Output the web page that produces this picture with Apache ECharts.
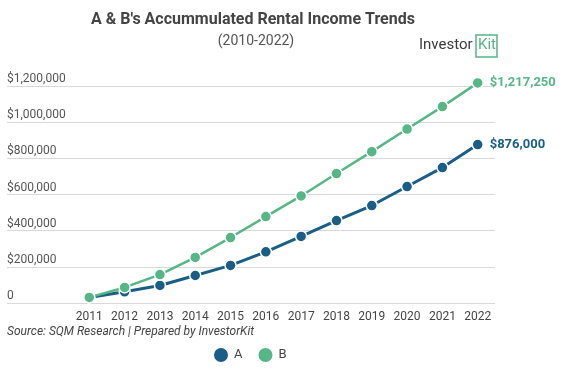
<!DOCTYPE html>
<html><head><meta charset="utf-8">
<script src="https://cdn.jsdelivr.net/npm/echarts@6/dist/echarts.min.js"></script>
<style>html,body{margin:0;padding:0;background:#fff}#c{width:564px;height:369px}</style>
</head><body><div id="c"></div>
<script>
const years = ['2011','2012','2013','2014','2015','2016','2017','2018','2019','2020','2021','2022'];
const seriesA = [31000, 62000, 97000, 152000, 208000, 283000, 368000, 456000, 539000, 644000, 749000, 876000];
const seriesB = [31000, 86000, 157000, 252000, 362000, 478000, 592000, 716000, 837000, 962000, 1086000, 1217250];
const yTicks = [0, 200000, 400000, 600000, 800000, 1000000, 1200000];
const colA = '#1a5e86', colB = '#56b685';
const fmt = v => v === 0 ? '0' : '$' + v.toLocaleString('en-US');
const chart = echarts.init(document.getElementById('c'), null, {renderer: 'canvas'});
const F = 'Roboto, sans-serif';
chart.setOption({
  animation: false,
  textStyle: {fontFamily: F},
  title: [
    {text: "A & B's Accummulated Rental Income Trends", left: 248, top: 7, textAlign: 'center',
     textStyle: {fontSize: 16, fontWeight: 'bold', color: '#444', fontFamily: F}},
    {text: '(2010-2022)', left: 251, top: 29, textAlign: 'center',
     textStyle: {fontSize: 14, fontWeight: 'normal', color: '#555', fontFamily: F}}
  ],
  graphic: [
    {type: 'text', left: 419, top: 38, style: {text: 'Investor', fontSize: 15, fill: '#3a3a3a', fontFamily: F}},
    {type: 'rect', shape: {x: 476, y: 35, width: 21, height: 22}, style: {fill: 'none', stroke: colB, lineWidth: 1.5}},
    {type: 'text', left: 478, top: 38, style: {text: 'Kit', fontSize: 15, fill: colB, fontFamily: F}},
    {type: 'text', left: 7, top: 326, style: {text: 'Source: SQM Research | Prepared by InvestorKit', fontSize: 12, fontStyle: 'italic', fill: '#444', fontFamily: F}}
  ],
  legend: {
    data: ['A', 'B'], top: 341, left: 207, icon: 'circle', itemWidth: 16, itemHeight: 16, itemGap: 14,
    textStyle: {fontSize: 13, color: '#444', fontFamily: F}
  },
  grid: [
    {left: 7, right: 69, top: 86, bottom: 66, containLabel: false},
    {left: 89.3, right: 86.3, top: 86, bottom: 66, containLabel: false}
  ],
  xAxis: [
    {gridIndex: 0, type: 'category', data: years, show: false},
    {gridIndex: 1, type: 'category', data: years, boundaryGap: false,
     axisLine: {show: false}, axisTick: {show: false},
     axisLabel: {color: '#444', fontSize: 12, margin: 8, fontFamily: F}}
  ],
  yAxis: [
    {gridIndex: 0, type: 'value', min: 0, max: 1200000, interval: 200000,
     axisLine: {show: false}, axisTick: {show: false},
     splitLine: {lineStyle: {color: '#d9d9d9', width: 1}},
     axisLabel: {inside: true, verticalAlign: 'bottom', margin: 0, padding: [0, 0, 1, 0], color: '#555', fontSize: 12, fontFamily: F,
       formatter: v => fmt(v)}},
    {gridIndex: 1, type: 'value', min: 0, max: 1200000, interval: 200000, show: false, splitLine: {show: false}}
  ],
  series: [
    {name: 'A', type: 'line', xAxisIndex: 1, yAxisIndex: 1, data: seriesA, color: colA, z: 2, clip: false,
     lineStyle: {width: 3, color: colA}, symbol: 'circle', symbolSize: 11,
     itemStyle: {color: colA, borderColor: '#fff', borderWidth: 1.5},
     endLabel: {show: true, formatter: p => fmt(p.value), color: colA, fontWeight: 'bold', fontSize: 13, distance: 12, fontFamily: F}},
    {name: 'B', type: 'line', xAxisIndex: 1, yAxisIndex: 1, data: seriesB, color: colB, z: 3, clip: false,
     lineStyle: {width: 2.5, color: colB}, symbol: 'circle', symbolSize: 11,
     itemStyle: {color: colB, borderColor: '#fff', borderWidth: 1.5},
     endLabel: {show: true, formatter: p => fmt(p.value), color: colB, fontWeight: 'bold', fontSize: 13, distance: 12, fontFamily: F}}
  ]
});
</script></body></html>
